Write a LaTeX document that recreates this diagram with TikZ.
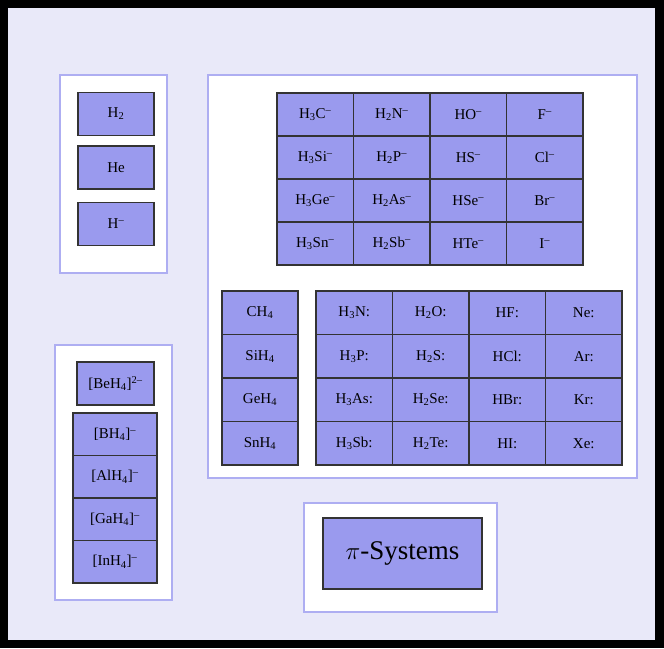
\documentclass[tikz,border=0pt]{standalone}
\usepackage{fontspec}
\setmainfont{Liberation Serif}
\usepackage{xcolor}
\usepackage{tikz}
\usetikzlibrary{positioning}

\definecolor{bgpanel}{HTML}{E9E9F9}
\definecolor{cellblue}{HTML}{9A9AEE}
\definecolor{frameblue}{HTML}{AEAEF2}

\newcommand{\sub}[1]{\textsubscript{#1}}
\newcommand{\mi}{\textsuperscript{--}}

\begin{document}
\begin{tikzpicture}[
        x=1pt, y=-1pt,
        panel/.style={draw=frameblue, line width=1.5pt, fill=white},
        cell/.style={rectangle, draw=black!80, line width=1.1pt, fill=cellblue, inner sep=0pt, font=\fontsize{15}{17}\selectfont, minimum width=76pt, minimum height=43pt},
        bigcell/.style={cell, minimum width=159pt, minimum height=71pt, font=\fontsize{27}{31}\selectfont}
    ]
    % background
    \fill[black] (0,0) rectangle (664,648);
    \fill[bgpanel] (8,8) rectangle (655,640);

    % panels
    \draw[panel] (60,75) rectangle (167,273);
    \draw[panel] (55,345) rectangle (172,600);
    \draw[panel] (208,75) rectangle (637,478);
    \draw[panel] (304,503) rectangle (497,612);

    % hydrogen and helium
    \node[cell] (h2) at (116,114) {H\sub{2}};
    \node[cell] (he) at (116,167.5) {He};
    \node[cell] (hm) at (116,224) {H\mi};

    % hydride anions
    \node[cell, minimum width=77pt] (beh) at (115.5,383.5) {[BeH\sub{4}]\textsuperscript{2--}};
    \foreach \t [count=\r] in {B,Al,Ga,In}
        \node[cell, minimum width=84pt, minimum height=42.5pt] (ate-\r) at (115,391.75+42.5*\r) {[\t H\sub{4}]\mi};

    % isoelectronic anions
    \foreach \row [count=\r] in {{H\sub{3}C\mi,H\sub{2}N\mi,HO\mi,F\mi},
                                 {H\sub{3}Si\mi,H\sub{2}P\mi,HS\mi,Cl\mi},
                                 {H\sub{3}Ge\mi,H\sub{2}As\mi,HSe\mi,Br\mi},
                                 {H\sub{3}Sn\mi,H\sub{2}Sb\mi,HTe\mi,I\mi}}
        \foreach \t [count=\c] in \row
            \node[cell, minimum width=76.5pt] (an-\r-\c) at (238.75+76.5*\c,71.5+43*\r) {\t};

    % tetrel hydrides
    \foreach \t [count=\r] in {C,Si,Ge,Sn}
        \node[cell, minimum height=43.5pt] (th-\r) at (260,269.25+43.5*\r) {\t H\sub{4}};

    % neutral hydrides and noble gases
    \foreach \row [count=\r] in {{H\sub{3}N:,H\sub{2}O:,HF:,Ne:},
                                 {H\sub{3}P:,H\sub{2}S:,HCl:,Ar:},
                                 {H\sub{3}As:,H\sub{2}Se:,HBr:,Kr:},
                                 {H\sub{3}Sb:,H\sub{2}Te:,HI:,Xe:}}
        \foreach \t [count=\c] in \row
            \node[cell, minimum width=76.5pt, minimum height=43.5pt] (nh-\r-\c) at (277.75+76.5*\c,269.25+43.5*\r) {\t};

    % pi systems
    \node[bigcell] (pi) at (402.5,553.5) {$\pi$-Systems};
\end{tikzpicture}
\end{document}
